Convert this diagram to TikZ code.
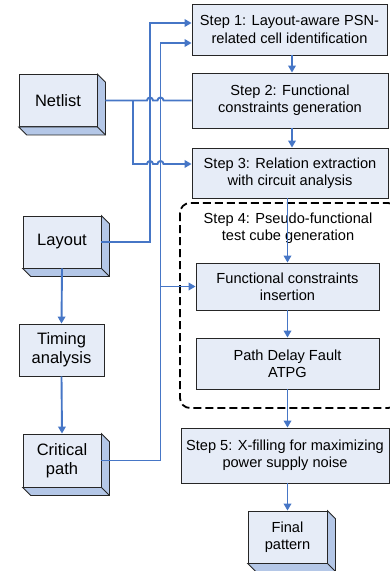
\documentclass[tikz,border=0pt]{standalone}
\usepackage{fontspec}
\setmainfont{Liberation Sans}
\usetikzlibrary{arrows.meta}
\definecolor{boxfill}{RGB}{230,236,247}
\definecolor{boxside}{RGB}{180,199,231}
\definecolor{flow}{RGB}{70,118,198}
\newcommand{\sidefaces}[1]{%
  \filldraw[fill=boxside, draw=black!85, line width=0.8pt]
    (#1.north east) -- ++(8,8) -- ([shift={(8pt,-8pt)}]#1.south east)
    -- ([shift={(8pt,-8pt)}]#1.south west) -- (#1.south west) -- (#1.south east) -- cycle;
  \draw[draw=black!85, line width=0.8pt] (#1.south east) -- ++(8,8);}
\tikzset{
  box/.style={draw=black!85, fill=boxfill, line width=0.8pt, align=center, inner sep=0pt,
    font=\fontsize{14.6}{17.2}\selectfont},
  lbox/.style={box, font=\fontsize{16.5}{19}\selectfont},
  flowline/.style={draw=flow, line width=1.9pt},
  arr/.style={flowline, -{Triangle[length=7pt,width=7.5pt]}}
}
\begin{document}
\begin{tikzpicture}[x=1pt,y=-1pt]
\useasboundingbox (0,0) rectangle (390,571);

% helper coordinates
\coordinate (c23) at (0,23);
\coordinate (c43) at (0,43);
\coordinate (c164) at (0,164);
\coordinate (c292) at (292,0);

% right column
\node[box, minimum width=195pt, minimum height=51pt] (step1) at (289.5,29.5)
  {Step 1: Layout-aware PSN-\\related cell identification};
\node[box, minimum width=196pt, minimum height=55pt] (step2) at (290,100.5)
  {Step 2: Functional\\constraints generation};
\node[box, minimum width=196pt, minimum height=50pt] (step3) at (290,173)
  {Step 3: Relation extraction\\with circuit analysis};
\node[align=center, inner sep=0pt, font=\fontsize{14.6}{17.4}\selectfont] (step4) at (288,228)
  {Step 4: Pseudo-functional\\test cube generation};
\node[box, minimum width=183pt, minimum height=47pt] (fci) at (287.5,286.5)
  {Functional constraints\\insertion};
\node[box, minimum width=183pt, minimum height=51pt] (pdf) at (287.5,363.5)
  {Path Delay Fault\\ATPG};
\node[box, minimum width=208pt, minimum height=55pt] (step5) at (285,455.5)
  {Step 5: X-filling for maximizing\\power supply noise};
\node[box, minimum width=79pt, minimum height=52pt] (final) at (287.5,537)
  {Final\\pattern};
\sidefaces{final}

% dashed group
\begin{scope}
\clip (0,0) rectangle (390,571);
\draw[line width=1.8pt, dash pattern=on 8pt off 4pt, rounded corners=10pt]
  (180,203) rectangle (398,408);
\end{scope}

% left column
\node[lbox, minimum width=78pt, minimum height=52pt] (netlist) at (58,100.5) {Netlist};
\sidefaces{netlist}
\node[lbox, minimum width=78pt, minimum height=52pt] (layout) at (62,242) {Layout};
\sidefaces{layout}
\node[lbox, minimum width=85pt, minimum height=52pt] (timing) at (61.5,350) {Timing\\analysis};
\node[lbox, minimum width=78pt, minimum height=53pt] (critical) at (62,460.5) {Critical\\path};
\sidefaces{critical}

% connectors
\draw[flowline] ([xshift=8pt]netlist.east) -- (147,100.5)
  arc[start angle=180, end angle=0, radius=3pt] -- (157.5,100.5)
  arc[start angle=180, end angle=0, radius=3pt] -- (step2.west);
\draw[arr] (133,100.5) -- (133,164) -- (147,164)
  arc[start angle=180, end angle=0, radius=3pt] -- (157.5,164)
  arc[start angle=180, end angle=0, radius=3pt] -- (step3.west |- c164);
\draw[arr] (layout.east) -- (150,242) -- (150,23) -- (step1.west |- c23);
\draw[arr] (critical.east) -- (160.5,460.5) -- (160.5,43) -- (step1.west |- c43);
\draw[arr] (160.5,286.5) -- (fci.west);

\draw[arr] (layout.south) -- (timing.north);
\draw[arr] (timing.south) -- (critical.north);

\draw[arr] (step1.south -| c292) -- (step2.north -| c292);
\draw[arr] (step2.south -| c292) -- (step3.north -| c292);
\draw[arr] (fci.north |- step3.south) -- (fci.north);
\draw[arr] (fci.south) -- (pdf.north);
\draw[arr] (pdf.south) -- (pdf.south |- step5.north);
\draw[arr] (final.north |- step5.south) -- (final.north);
\end{tikzpicture}
\end{document}
